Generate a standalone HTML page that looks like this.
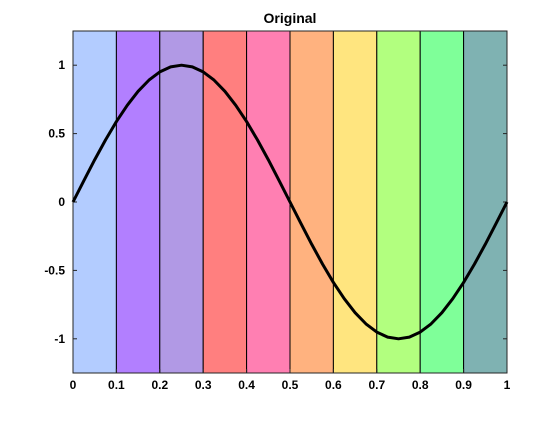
<!DOCTYPE html>
<html><head><meta charset="utf-8"><style>
body{margin:0;background:#fff;font-family:"Liberation Sans",sans-serif}
svg text{font-family:"Liberation Sans",sans-serif;font-weight:bold;font-size:12px;fill:#000}
</style></head><body>
<svg width="560" height="420" id="c">
<text x="290" y="23" text-anchor="middle" style="font-size:14px">Original</text>
</svg>
<script>
const bandEdges=[0,0.1,0.2,0.3,0.4,0.5,0.6,0.7,0.8,0.9,1];
const bandColors=["#b3ccff","#b27fff","#b199e5","#ff7f7f","#ff7fb2","#ffb27f","#ffe57f","#b2ff7f","#7fff99","#7fb2b2"];
const curveX=[0,0.025,0.05,0.075,0.1,0.125,0.15,0.175,0.2,0.225,0.25,0.275,0.3,0.325,0.35,0.375,0.4,0.425,0.45,0.475,0.5,0.525,0.55,0.575,0.6,0.625,0.65,0.675,0.7,0.725,0.75,0.775,0.8,0.825,0.85,0.875,0.9,0.925,0.95,0.975,1];
const curveY=[0,0.156,0.309,0.454,0.588,0.707,0.809,0.891,0.951,0.988,1,0.988,0.951,0.891,0.809,0.707,0.588,0.454,0.309,0.156,0,-0.156,-0.309,-0.454,-0.588,-0.707,-0.809,-0.891,-0.951,-0.988,-1,-0.988,-0.951,-0.891,-0.809,-0.707,-0.588,-0.454,-0.309,-0.156,0];
const xTicks=[0,0.1,0.2,0.3,0.4,0.5,0.6,0.7,0.8,0.9,1];
const xTickLabels=["0","0.1","0.2","0.3","0.4","0.5","0.6","0.7","0.8","0.9","1"];
const yTicks=[-1,-0.5,0,0.5,1];
const yTickLabels=["-1","-0.5","0","0.5","1"];
const L=73,R=507,T=31,B=373,ymin=-1.25,ymax=1.25;
const sx=v=>L+(v-0)*(R-L);
const sy=v=>B-(v-ymin)/(ymax-ymin)*(B-T);
const svg=document.getElementById('c');
const NS='http://www.w3.org/2000/svg';
function mk(t,a){const e=document.createElementNS(NS,t);for(const k in a)e.setAttribute(k,a[k]);svg.appendChild(e);return e;}
for(let i=0;i<bandColors.length;i++){
 const r=mk('rect',{x:sx(bandEdges[i]),y:T,width:sx(bandEdges[i+1])-sx(bandEdges[i]),height:B-T,fill:bandColors[i],stroke:'#000','stroke-width':1});
 
 
}
const fr=mk('rect',{x:L,y:T,width:R-L,height:B-T,fill:'none',stroke:'#262626','stroke-width':1});


xTicks.forEach((v,i)=>{
 mk('line',{x1:sx(v),x2:sx(v),y1:B,y2:B-4,stroke:'#262626'});
 const t=mk('text',{x:sx(v),y:B+16,'text-anchor':'middle'});t.textContent=xTickLabels[i];
 
 
});
yTicks.forEach((v,i)=>{
 mk('line',{x1:L,x2:L+4,y1:sy(v),y2:sy(v),stroke:'#262626'});
 mk('line',{x1:R,x2:R-4,y1:sy(v),y2:sy(v),stroke:'#262626'});
 const t=mk('text',{x:L-8,y:sy(v)+4,'text-anchor':'end'});t.textContent=yTickLabels[i];
 
 
});
const p=mk('polyline',{points:curveX.map((x,i)=>sx(x)+','+sy(curveY[i])).join(' '),fill:'none',stroke:'#000','stroke-width':3,'stroke-linejoin':'round'});


</script>
</body></html>
